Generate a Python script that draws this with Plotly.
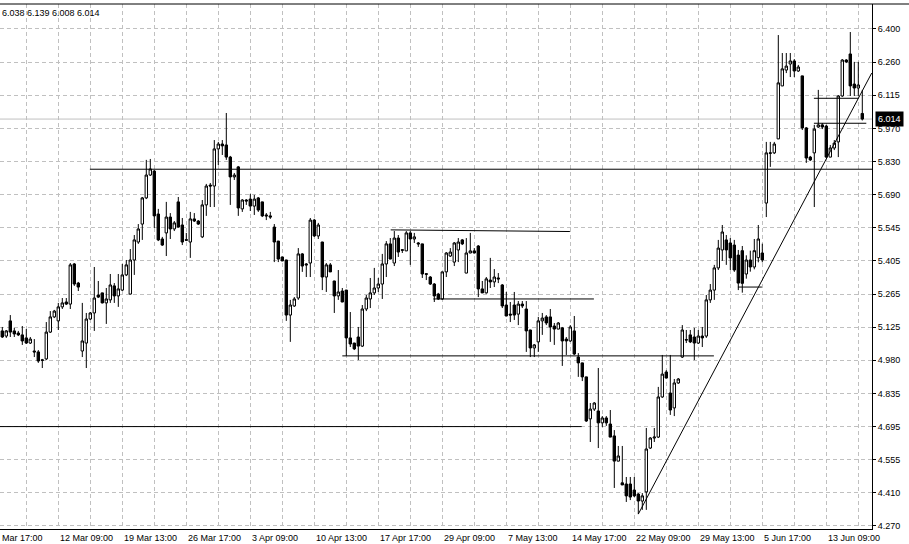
import plotly.graph_objects as go

# ---------------- data ----------------
open_ = [5.106,5.084,5.149,5.106,5.097,5.089,5.076,5.054,5.020,5.016,
         4.982,4.986,5.101,5.166,5.149,5.209,5.230,5.221,5.393,5.311,
         5.020,5.054,5.157,5.183,5.260,5.269,5.226,5.239,5.299,5.256,
         5.281,5.346,5.264,5.410,5.487,5.564,5.676,5.774,5.791,5.607,
         5.500,5.526,5.594,5.543,5.659,5.560,5.497,5.487,5.586,5.577,
         5.509,5.646,5.731,5.727,5.886,5.907,5.903,5.851,5.766,5.809,
         5.629,5.667,5.671,5.641,5.676,5.659,5.603,5.599,5.551,5.491,
         5.423,5.410,5.174,5.213,5.247,5.436,5.393,5.397,5.581,5.513,
         5.487,5.337,5.389,5.320,5.256,5.277,5.281,5.076,5.054,5.080,
         5.041,5.200,5.243,5.269,5.290,5.307,5.393,5.479,5.397,5.504,
         5.454,5.449,5.526,5.500,5.483,5.479,5.351,5.337,5.307,5.264,
         5.243,5.359,5.427,5.401,5.453,5.496,5.354,5.440,5.449,5.470,
         5.286,5.269,5.324,5.316,5.333,5.303,5.217,5.178,5.217,5.178,
         5.221,5.200,5.110,5.033,5.059,5.149,5.166,5.166,5.127,5.114,
         5.119,5.071,5.063,5.106,4.994,4.969,4.909,4.729,4.771,4.763,
         4.712,4.733,4.707,4.656,4.548,4.455,4.450,4.450,4.424,4.407,
         4.377,4.416,4.604,4.647,4.651,4.823,4.930,4.840,4.776,4.883,
         4.994,5.069,5.089,5.080,5.054,5.084,5.084,5.239,5.281,5.376,
         5.453,5.496,5.483,5.474,5.431,5.450,5.350,5.410,5.380,5.420,
         5.440,5.654,5.867,5.869,5.929,6.156,6.224,6.250,6.263,6.220,
         6.199,5.976,5.851,5.869,5.980,5.989,5.984,5.851,5.890,5.916,
         6.113,6.267,6.293,6.164,6.147,6.038]
high = [5.123,5.110,5.174,5.119,5.106,5.127,5.114,5.080,5.071,5.024,
        4.986,5.144,5.191,5.196,5.226,5.247,5.247,5.397,5.397,5.316,
        5.226,5.183,5.187,5.380,5.320,5.270,5.290,5.350,5.311,5.350,
        5.393,5.410,5.457,5.517,5.564,5.680,5.839,5.843,5.796,5.629,
        5.509,5.659,5.611,5.577,5.680,5.590,5.526,5.616,5.611,5.581,
        5.667,5.736,5.740,5.924,5.916,5.924,6.040,5.856,5.783,5.813,
        5.671,5.671,5.693,5.689,5.680,5.660,5.611,5.616,5.564,5.492,
        5.424,5.411,5.239,5.251,5.461,5.440,5.397,5.590,5.586,5.569,
        5.488,5.397,5.397,5.321,5.367,5.290,5.282,5.187,5.055,5.123,
        5.217,5.260,5.333,5.376,5.333,5.436,5.491,5.504,5.534,5.517,
        5.457,5.534,5.534,5.526,5.487,5.480,5.354,5.341,5.311,5.269,
        5.360,5.444,5.461,5.487,5.504,5.500,5.504,5.526,5.461,5.474,
        5.320,5.337,5.419,5.371,5.354,5.307,5.273,5.230,5.273,5.234,
        5.234,5.234,5.111,5.050,5.166,5.183,5.174,5.200,5.140,5.144,
        5.123,5.080,5.131,5.170,5.011,4.970,4.910,4.797,4.801,4.947,
        4.741,4.741,4.767,4.681,4.613,4.613,4.480,4.480,4.480,4.411,
        4.411,4.690,4.651,4.690,4.866,5.003,4.938,5.003,4.900,4.904,
        5.131,5.110,5.110,5.119,5.110,5.123,5.260,5.307,5.389,5.496,
        5.560,5.517,5.504,5.496,5.453,5.470,5.430,5.450,5.500,5.560,
        5.480,5.916,5.916,5.916,6.374,6.297,6.297,6.297,6.271,6.246,
        6.200,5.980,5.856,5.989,6.139,5.997,5.989,5.903,5.924,6.117,
        6.271,6.271,6.387,6.259,6.259,6.139]
low = [5.076,5.076,5.080,5.080,5.084,5.046,5.050,5.050,4.994,4.969,
       4.947,4.981,5.097,5.161,5.110,5.200,5.217,5.200,5.299,5.277,
       4.994,4.947,5.153,5.106,5.247,5.224,5.136,5.226,5.226,5.209,
       5.277,5.341,5.262,5.346,5.479,5.496,5.671,5.770,5.547,5.491,
       5.470,5.427,5.500,5.534,5.549,5.474,5.491,5.419,5.573,5.560,
       5.504,5.599,5.637,5.637,5.817,5.860,5.839,5.646,5.753,5.599,
       5.616,5.646,5.620,5.603,5.616,5.594,5.581,5.586,5.401,5.401,
       5.405,5.149,5.059,5.209,5.239,5.359,5.337,5.337,5.509,5.500,
       5.281,5.273,5.358,5.183,5.239,5.229,4.999,5.037,5.024,4.981,
       5.037,5.191,5.204,5.260,5.273,5.243,5.337,5.413,5.384,5.423,
       5.440,5.448,5.389,5.483,5.466,5.333,5.324,5.303,5.230,5.239,
       5.239,5.337,5.423,5.384,5.401,5.474,5.353,5.439,5.438,5.251,
       5.268,5.266,5.290,5.294,5.311,5.204,5.169,5.144,5.153,5.131,
       5.204,5.016,4.994,4.994,5.016,5.089,5.131,5.059,5.046,5.113,
       4.956,5.003,5.059,5.003,4.909,4.891,4.716,4.630,4.763,4.604,
       4.694,4.699,4.650,4.433,4.547,4.445,4.373,4.381,4.394,4.321,
       4.339,4.339,4.600,4.630,4.647,4.819,4.903,4.746,4.741,4.879,
       4.990,5.054,5.054,4.981,5.050,5.037,5.076,5.226,5.239,5.367,
       5.406,5.389,5.367,5.359,5.281,5.270,5.330,5.360,5.370,5.400,
       5.400,5.594,5.809,5.864,5.928,6.155,6.211,6.194,6.194,6.216,
       5.967,5.826,5.834,5.637,5.976,5.971,5.847,5.850,5.881,5.851,
       6.109,6.254,6.113,6.113,6.113,6.008]
close = [5.080,5.106,5.101,5.093,5.089,5.063,5.054,5.071,5.016,4.977,
         4.980,5.101,5.166,5.191,5.209,5.226,5.221,5.389,5.307,5.294,
         5.063,5.157,5.183,5.247,5.251,5.226,5.243,5.303,5.256,5.286,
         5.346,5.389,5.410,5.496,5.543,5.676,5.774,5.800,5.599,5.496,
         5.474,5.594,5.543,5.569,5.551,5.487,5.495,5.586,5.577,5.564,
         5.646,5.727,5.727,5.886,5.907,5.899,5.851,5.766,5.774,5.633,
         5.667,5.663,5.641,5.671,5.624,5.599,5.599,5.594,5.487,5.414,
         5.406,5.174,5.217,5.243,5.436,5.384,5.389,5.581,5.513,5.560,
         5.337,5.389,5.359,5.256,5.273,5.230,5.076,5.050,5.029,5.041,
         5.200,5.247,5.269,5.290,5.307,5.393,5.479,5.414,5.504,5.444,
         5.452,5.526,5.500,5.509,5.479,5.350,5.349,5.307,5.256,5.243,
         5.359,5.440,5.444,5.483,5.487,5.479,5.440,5.449,5.440,5.286,
         5.269,5.329,5.316,5.337,5.329,5.213,5.170,5.174,5.174,5.221,
         5.213,5.106,5.033,5.046,5.149,5.161,5.140,5.123,5.114,5.140,
         5.063,5.063,5.123,5.007,4.969,4.909,4.720,4.771,4.797,4.712,
         4.733,4.712,4.651,4.548,4.570,4.446,4.399,4.394,4.399,4.377,
         4.399,4.600,4.647,4.651,4.823,4.921,4.904,4.767,4.883,4.900,
         5.110,5.067,5.059,5.054,5.084,5.076,5.239,5.281,5.376,5.461,
         5.530,5.453,5.419,5.367,5.311,5.310,5.410,5.380,5.450,5.500,
         5.410,5.869,5.869,5.907,6.169,6.229,6.241,6.263,6.220,6.237,
         5.976,5.847,5.839,5.971,5.989,5.980,5.851,5.890,5.911,6.113,
         6.267,6.259,6.156,6.147,6.160,6.014]

header_text = "6.038 6.139 6.008 6.014"
last_price = 6.014

price_tick_values = [4.270, 4.412, 4.554, 4.696, 4.838, 4.980, 5.122, 5.264,
                     5.406, 5.548, 5.690, 5.832, 5.974, 6.116, 6.258, 6.400]
price_tick_text = ["4.270", "4.410", "4.555", "4.695", "4.835", "4.980", "5.125", "5.265",
                   "5.405", "5.545", "5.690", "5.830", "5.970", "6.115", "6.260", "6.400"]

# first label is the partly hidden one at the left edge
first_time_label = "Mar 17:00"
time_label_index = [14, 30, 46, 62, 78, 94, 110, 126, 142, 158, 174, 190, 206]
time_label_text = ["12 Mar 09:00", "19 Mar 13:00", "26 Mar 17:00",
                   "3 Apr 09:00", "10 Apr 13:00", "17 Apr 17:00", "29 Apr 09:00",
                   "7 May 13:00", "14 May 17:00", "22 May 09:00", "29 May 13:00",
                   "5 Jun 17:00", "13 Jun 09:00"]
grid_index = list(range(6, 216, 8))

# drawn objects (bar index, price)
line_x0 = [21.9, -5.0, 97.1, 107.75, 85.0, 202.9, 202.9, 183.9, 159.0]
line_x1 = [230.0, 144.85, 141.9, 147.9, 177.9, 214.0, 216.0, 189.9, 217.35]
line_y0 = [5.799, 4.696, 5.539, 5.243, 4.999, 6.103, 5.996, 5.294, 4.321]
line_y1 = [5.799, 4.696, 5.532, 5.243, 4.999, 6.103, 5.996, 5.294, 6.211]

# ---------------- figure ----------------
x_idx = list(range(len(open_)))
X_LO, X_HI = -0.575, 217.425
Y_LO, Y_HI = 4.2571, 6.5071
FONT = "Liberation Sans, Arial, sans-serif"

fig = go.Figure()
fig.add_trace(go.Candlestick(
    x=x_idx, open=open_, high=high, low=low, close=close,
    increasing=dict(line=dict(color="black", width=1), fillcolor="white"),
    decreasing=dict(line=dict(color="black", width=1), fillcolor="black"),
    whiskerwidth=0, showlegend=False, hoverinfo="skip"))

shapes = []
shapes.append(dict(type="line", xref="paper", x0=0, x1=1, yref="y",
                   y0=last_price, y1=last_price,
                   line=dict(color="#c0c0c0", width=1), layer="below"))
for a, b, c, d in zip(line_x0, line_x1, line_y0, line_y1):
    shapes.append(dict(type="line", xref="x", yref="y", x0=a, x1=b, y0=c, y1=d,
                       line=dict(color="black", width=1)))
shapes.append(dict(type="line", xref="paper", yref="paper", x0=-0.01, x1=1.06,
                   y0=1, y1=1, line=dict(color="black", width=1)))

annotations = []
annotations.append(dict(x=0.0, xref="paper", y=-0.0171, yref="paper",
                        text=first_time_label, showarrow=False, xanchor="left",
                        yanchor="middle", font=dict(family=FONT, size=9, color="black")))
for i, t in zip(time_label_index, time_label_text):
    annotations.append(dict(x=i, xref="x", y=-0.0171, yref="paper", text=t,
                            showarrow=False, xanchor="left", yanchor="middle",
                            font=dict(family=FONT, size=9, color="black")))
annotations.append(dict(x=0.0, xref="paper", y=0.983, yref="paper",
                        text=header_text, showarrow=False, xanchor="left",
                        yanchor="middle", font=dict(family=FONT, size=9, color="black")))
annotations.append(dict(x=1.0035, xref="paper", y=last_price, yref="y",
                        text=str(last_price), showarrow=False, xanchor="left",
                        yanchor="middle", bgcolor="black", borderpad=2,
                        font=dict(family=FONT, size=9, color="white")))

fig.update_layout(
    width=909, height=544,
    margin=dict(l=0, r=37, t=4, b=15, pad=0, autoexpand=False),
    paper_bgcolor="white", plot_bgcolor="white",
    showlegend=False, boxgap=0.4, boxgroupgap=0,
    shapes=shapes, annotations=annotations,
    xaxis=dict(range=[X_LO, X_HI], rangeslider=dict(visible=False),
               tickvals=grid_index, ticktext=[""] * len(grid_index),
               showgrid=True, gridcolor="#c0c0c0", griddash="4px,3px", gridwidth=1,
               zeroline=False, showline=True, linecolor="black", linewidth=1,
               ticks="", showticklabels=False, fixedrange=True, automargin=False),
    yaxis=dict(range=[Y_LO, Y_HI], side="right",
               tickvals=price_tick_values, ticktext=price_tick_text,
               showgrid=True, gridcolor="#c0c0c0", griddash="4px,3px", gridwidth=1,
               zeroline=False, showline=True, linecolor="black", linewidth=1,
               ticks="outside", ticklen=3, tickcolor="black", automargin=False,
               tickfont=dict(family=FONT, size=9, color="black"), fixedrange=True),
)

fig.write_html("out.html", config={"displayModeBar": False},
               post_script="document.body.style.margin='0px';document.body.style.overflow='hidden';")
